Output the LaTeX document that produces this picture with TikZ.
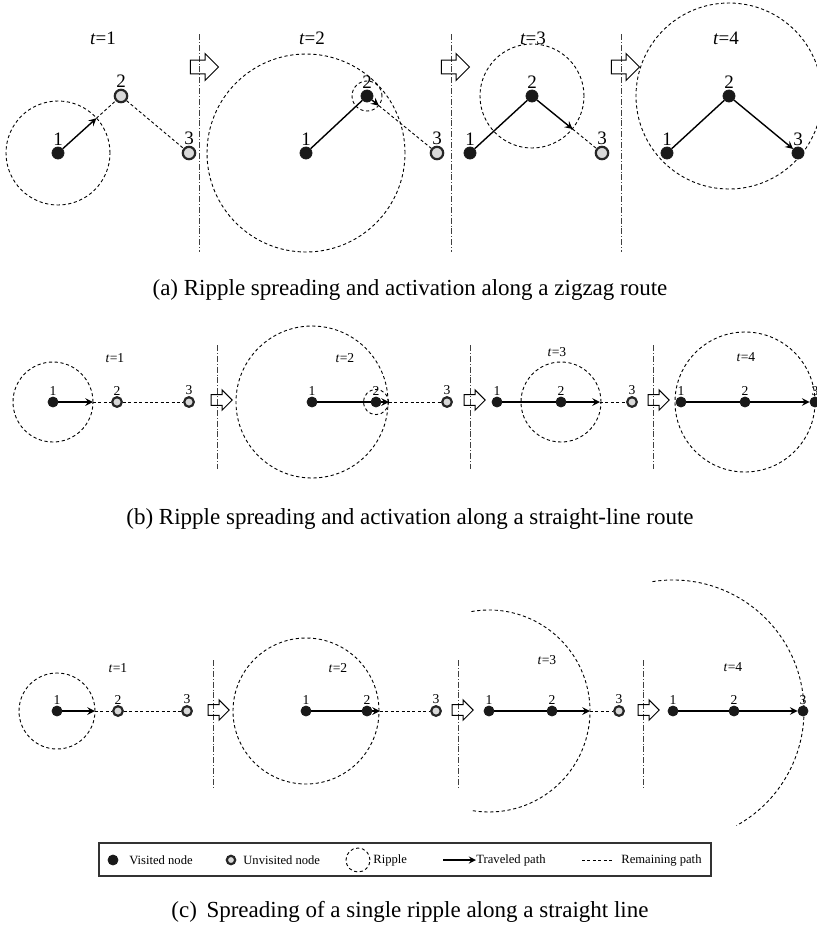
\documentclass[tikz,border=0pt]{standalone}
\usepackage{fontspec}
\setmainfont{Liberation Serif}
\usetikzlibrary{calc,shapes.arrows,backgrounds}

\begin{document}
\begin{tikzpicture}[x=0.5pt, y=-0.5pt, >=stealth,
    visited/.style={circle, fill=black!90, draw=black!90, inner sep=0pt, minimum size=#1},
    visited/.default=6pt,
    unvisited/.style={circle, fill=black!15, draw=black!85, line width=1.1pt, inner sep=0pt, minimum size=#1},
    unvisited/.default=6.2pt,
    ripple/.style={dash pattern=on 1.6pt off 1.3pt, line width=0.45pt},
    traveled/.style={->, line width=0.7pt},
    remaining/.style={dash pattern=on 1.5pt off 1.2pt, line width=0.45pt},
    divider/.style={dash pattern=on 3pt off 1pt on 0.4pt off 1pt, line width=0.4pt, black!75},
    shift arrow/.style={single arrow, draw, line width=0.5pt, inner xsep=0pt, inner ysep=#1, single arrow head extend=#1, minimum height=4.4*#1},
    nlab/.style={font=\fontsize{9.5}{10}\selectfont, inner sep=0.5pt},
    slab/.style={font=\fontsize{6.8}{7}\selectfont, inner sep=0.3pt},
    tlab/.style={font=\fontsize{9.5}{10}\selectfont},
    stlab/.style={font=\fontsize{6.8}{7}\selectfont},
    legtext/.style={font=\fontsize{6.3}{7}\selectfont, anchor=west, inner sep=0pt},
    caption/.style={font=\fontsize{11.5}{13}\selectfont}
]
  \useasboundingbox (0,0) rectangle (817,933);

  % (a) zigzag route
  \node[visited, label={[nlab]above:1}] (a11) at (58,153) {};
  \node[unvisited, label={[nlab]above:2}] (a12) at (121,96) {};
  \node[unvisited, label={[nlab]above:3}] (a13) at (189,153) {};
  \node[visited, label={[nlab]above:1}] (a21) at (306,153) {};
  \node[visited, label={[nlab]above:2}] (a22) at (367,96) {};
  \node[unvisited, label={[nlab]above:3}] (a23) at (437,153) {};
  \node[visited, label={[nlab]above:1}] (a31) at (470,153) {};
  \node[visited, label={[nlab]above:2}] (a32) at (532,96) {};
  \node[unvisited, label={[nlab]above:3}] (a33) at (602,153) {};
  \node[visited, label={[nlab]above:1}] (a41) at (667,153) {};
  \node[visited, label={[nlab]above:2}] (a42) at (729,96) {};
  \node[visited, label={[nlab]above:3}] (a43) at (798,153) {};

  \begin{scope}[on background layer]
    \draw[ripple] (a11) circle[radius=26pt];
    \draw[ripple] (a21) circle[radius=49.5pt];
    \draw[ripple] (a22) circle[radius=7.5pt];
    \draw[ripple] (a32) circle[radius=26pt];
    \draw[ripple] (a42) circle[radius=46.5pt];
  \end{scope}

  \coordinate (a1e) at ($(a11)!0.61!(a12)$);
  \coordinate (a2e) at ($(a22)!0.17!(a23)$);
  \coordinate (a3e) at ($(a32)!0.58!(a33)$);
  \draw[traveled] (a11) -- (a1e);
  \draw[remaining] (a1e) -- (a12) -- (a13);
  \draw[line width=0.7pt] (a21) -- (a22);
  \draw[traveled] (a22) -- (a2e);
  \draw[remaining] (a2e) -- (a23);
  \draw[line width=0.7pt] (a31) -- (a32);
  \draw[traveled] (a32) -- (a3e);
  \draw[remaining] (a3e) -- (a33);
  \draw[line width=0.7pt] (a41) -- (a42);
  \draw[traveled] (a42) -- (a43);

  \foreach \x in {199,451,621}
    \draw[divider] (\x,34) -- (\x,252);
  \foreach \x/\n in {201/1,452/2,622/3}
    \node[shift arrow=3.2pt] (sa\n) at (\x,67) {};
  \foreach \x/\k in {103/1,312/2,533/3,726/4}
    \node[tlab] (ta\k) at (\x,38) {\textit{t}=\k};
  \node[caption] (capa) at (410,290) {(a) Ripple spreading and activation along a zigzag route};

  % (b) straight-line route
  \node[visited=5pt, label={[slab]above:1}] (b11) at (53,402) {};
  \node[unvisited=4.8pt, label={[slab]above:2}] (b12) at (117,402) {};
  \node[unvisited=4.8pt, label={[slab]above:3}] (b13) at (189,402) {};
  \node[visited=5pt, label={[slab]above:1}] (b21) at (312,402) {};
  \node[visited=5pt, label={[slab]above:2}] (b22) at (376,402) {};
  \node[unvisited=4.8pt, label={[slab]above:3}] (b23) at (447,402) {};
  \node[visited=5pt, label={[slab]above:1}] (b31) at (497,402) {};
  \node[visited=5pt, label={[slab]above:2}] (b32) at (561,402) {};
  \node[unvisited=4.8pt, label={[slab]above:3}] (b33) at (632,402) {};
  \node[visited=5pt, label={[slab]above:1}] (b41) at (681,402) {};
  \node[visited=5pt, label={[slab]above:2}] (b42) at (745,402) {};
  \node[visited=5pt, label={[slab]above:3}] (b43) at (815,402) {};

  \begin{scope}[on background layer]
    \draw[ripple] (b11) circle[radius=20pt];
    \draw[ripple] (b21) circle[radius=38pt];
    \draw[ripple] (b22) circle[radius=6.3pt];
    \draw[ripple] (b32) circle[radius=20pt];
    \draw[ripple] (b42) circle[radius=35pt];
  \end{scope}

  \coordinate (b1e) at (93,402);
  \coordinate (b2e) at (389,402);
  \coordinate (b3e) at (600,402);
  \draw[traveled] (b11) -- (b1e);
  \draw[remaining] (b1e) -- (b12) -- (b13);
  \draw[line width=0.6pt] (b21) -- (b22);
  \draw[traveled] (b22) -- (b2e);
  \draw[remaining] (b2e) -- (b23);
  \draw[line width=0.6pt] (b31) -- (b32);
  \draw[traveled] (b32) -- (b3e);
  \draw[remaining] (b3e) -- (b33);
  \draw[line width=0.6pt] (b41) -- (b42);
  \draw[traveled] (b42) -- (b43);

  \foreach \x in {217,470,653}
    \draw[divider] (\x,345) -- (\x,469);
  \foreach \x/\n in {219/1,472/2,656/3}
    \node[shift arrow=2.4pt] (sb\n) at (\x,400) {};
  \foreach \x/\y/\k in {115/358/1,345/358/2,557/352/3,746/357/4}
    \node[stlab] (tb\k) at (\x,\y) {\textit{t}=\k};
  \node[caption] (capb) at (410,519) {(b) Ripple spreading and activation along a straight-line route};

  % (c) single ripple
  \node[visited=5pt, label={[slab]above:1}] (c11) at (57,711) {};
  \node[unvisited=4.8pt, label={[slab]above:2}] (c12) at (118,711) {};
  \node[unvisited=4.8pt, label={[slab]above:3}] (c13) at (187,711) {};
  \node[visited=5pt, label={[slab]above:1}] (c21) at (306,711) {};
  \node[visited=5pt, label={[slab]above:2}] (c22) at (367,711) {};
  \node[unvisited=4.8pt, label={[slab]above:3}] (c23) at (436,711) {};
  \node[visited=5pt, label={[slab]above:1}] (c31) at (489,711) {};
  \node[visited=5pt, label={[slab]above:2}] (c32) at (552,711) {};
  \node[unvisited=4.8pt, label={[slab]above:3}] (c33) at (619,711) {};
  \node[visited=5pt, label={[slab]above:1}] (c41) at (673,711) {};
  \node[visited=5pt, label={[slab]above:2}] (c42) at (734,711) {};
  \node[visited=5pt, label={[slab]above:3}] (c43) at (803,711) {};

  \begin{scope}[on background layer]
    \draw[ripple] (c11) circle[radius=19pt];
    \draw[ripple] (c21) circle[radius=36.5pt];
    \draw[ripple] (c31) ++(100:50.5pt) arc[start angle=100, end angle=-100, radius=50.5pt];
    \draw[ripple] (c41) ++(99:65.5pt) arc[start angle=99, end angle=-61, radius=65.5pt];
  \end{scope}

  \coordinate (c1e) at (95,711);
  \coordinate (c2e) at (380,711);
  \coordinate (c3e) at (590,711);
  \draw[traveled] (c11) -- (c1e);
  \draw[remaining] (c1e) -- (c12) -- (c13);
  \draw[line width=0.6pt] (c21) -- (c22);
  \draw[traveled] (c22) -- (c2e);
  \draw[remaining] (c2e) -- (c23);
  \draw[line width=0.6pt] (c31) -- (c32);
  \draw[traveled] (c32) -- (c3e);
  \draw[remaining] (c3e) -- (c33);
  \draw[line width=0.6pt] (c41) -- (c42);
  \draw[traveled] (c42) -- (c43);

  \foreach \x in {213,458,643}
    \draw[divider] (\x,660) -- (\x,787);
  \foreach \x/\n in {216/1,460/2,646/3}
    \node[shift arrow=2.4pt] (sc\n) at (\x,710) {};
  \foreach \x/\y/\k in {118/668/1,338/668/2,547/660/3,733/667/4}
    \node[stlab] (tc\k) at (\x,\y) {\textit{t}=\k};

  % legend
  \draw[black!80, line width=0.6pt] (99,843) rectangle (711,876);
  \node[visited=5pt] (lv) at (113,860) {};
  \node[legtext] (lvt) at (129,860) {Visited node};
  \node[unvisited=4.2pt] (lu) at (231,860) {};
  \node[legtext] (lut) at (243,860) {Unvisited node};
  \node[circle, draw, ripple, minimum size=12pt] (lr) at (358,860) {};
  \node[legtext] (lrt) at (373,860) {Ripple};
  \coordinate (lts) at (443,860);
  \node[legtext] (ltt) at (476,860) {Traveled path};
  \draw[traveled, line width=0.6pt] (lts) -- (ltt.west);
  \coordinate (lrs) at (582,860);
  \coordinate (lre) at (613,860);
  \draw[remaining] (lrs) -- (lre);
  \node[legtext] (lrp) at (621,860) {Remaining path};

  \node[caption] (capc) at (410,912) {(c)\ \,Spreading of a single ripple along a straight line};
\end{tikzpicture}
\end{document}
